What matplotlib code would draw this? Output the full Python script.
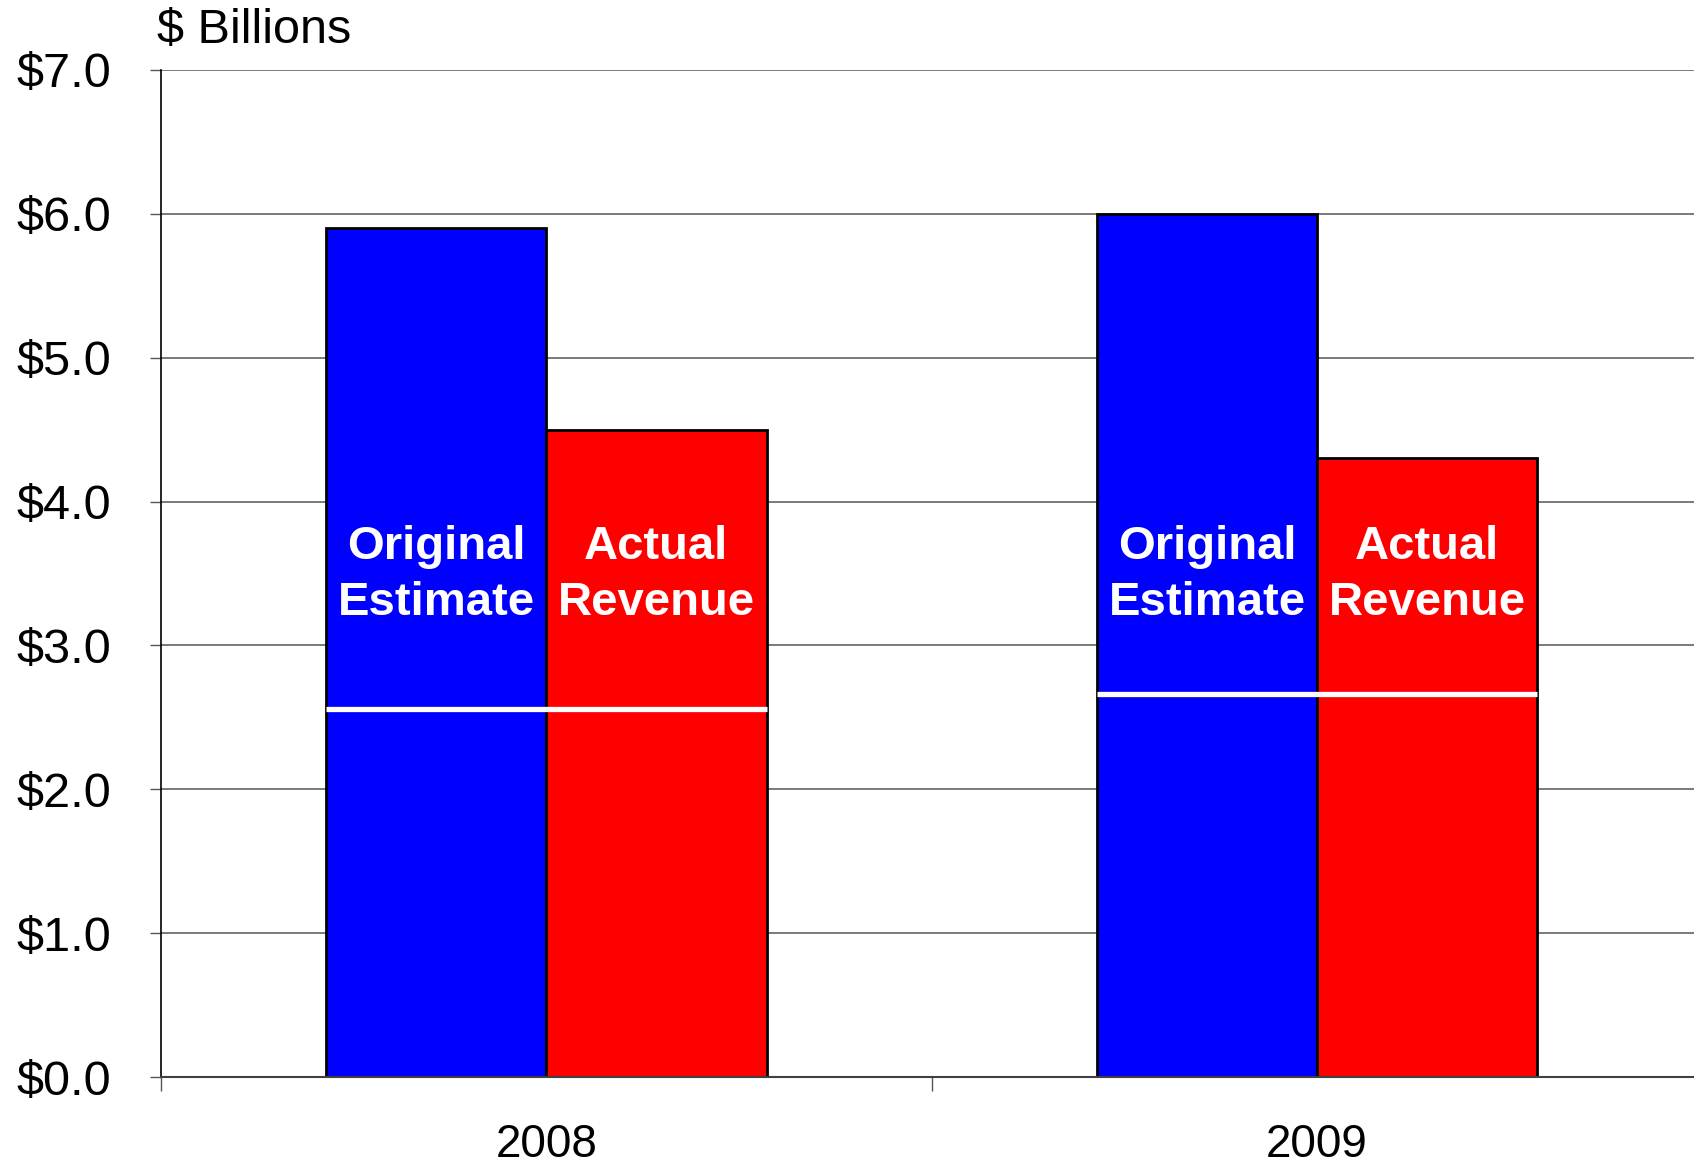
import matplotlib
matplotlib.use('Agg')
import matplotlib.pyplot as plt
import numpy as np

plt.rcParams['font.family'] = ['Liberation Sans', 'DejaVu Sans']

# data ($ billions)
years = ['2008', '2009']
original_estimate = [5.9, 6.0]
actual_revenue = [4.5, 4.3]
white_marks = [2.56, 2.66]
ytick_vals = [0, 1, 2, 3, 4, 5, 6, 7]
ytick_labels = ['\\$%.1f' % v for v in ytick_vals]

fig = plt.figure(figsize=(16.94, 11.66), dpi=100)
ax = fig.add_axes([0.095, 0.0763, 0.910, 0.8637])

x = np.arange(len(years))
w = 1 / 3.5  # excel-style 150% gap

ax.bar(x - w / 2, original_estimate, w, color='#0000FF', edgecolor='black', linewidth=2, zorder=3)
ax.bar(x + w / 2, actual_revenue, w, color='#FF0000', edgecolor='black', linewidth=2, zorder=3)
ax.hlines(white_marks, x - w, x + w, colors='white', linewidth=3.8, zorder=4)

for xi in x:
    ax.text(xi - w / 2, 3.49, 'Original\nEstimate', color='white', fontsize=34, fontweight='bold',
            ha='center', va='center', linespacing=1.35, zorder=5)
    ax.text(xi + w / 2, 3.49, 'Actual\nRevenue', color='white', fontsize=34, fontweight='bold',
            ha='center', va='center', linespacing=1.35, zorder=5)

ax.set_xlim(-0.5, 1.5)
ax.set_ylim(0, 7)
ax.set_yticks(ytick_vals)
ax.set_yticklabels(ytick_labels, fontsize=35)
ax.set_xticks(x)
ax.set_xticklabels(years, fontsize=33)
ax.set_xticks([-0.5, 0.5, 1.5], minor=True)
ax.tick_params(axis='x', which='major', length=0, pad=33)
ax.tick_params(axis='x', which='minor', length=10, width=1, color='#555555', direction='out')
ax.tick_params(axis='y', length=8, width=1, color='#555555', pad=28, direction='out')

ax.yaxis.grid(True, color='#707070', linewidth=1.3, zorder=0)
ax.set_axisbelow(True)
ax.spines['top'].set_visible(False)
ax.spines['right'].set_visible(False)
ax.spines['left'].set_color('black')
ax.spines['left'].set_linewidth(1.2)
ax.spines['bottom'].set_color('#404040')
ax.spines['bottom'].set_linewidth(1.5)
ax.spines['bottom'].set_zorder(6)

fig.text(0.0927, 0.974, '\\$ Billions', fontsize=35, ha='left', va='center')

plt.savefig('out.png', dpi=100)
